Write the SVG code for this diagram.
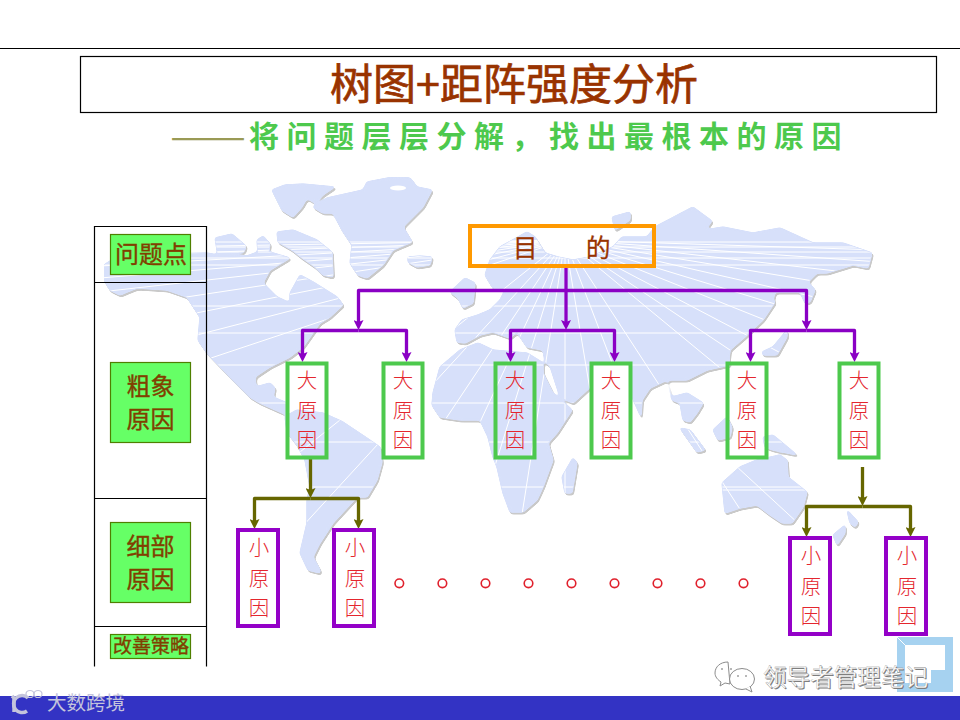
<svg xmlns="http://www.w3.org/2000/svg" width="960" height="720" viewBox="0 0 960 720">
<style>
text{font-family:"Noto Sans CJK SC","Liberation Sans",sans-serif}
.rule{stroke:#000;stroke-width:1.2;fill:none}
.lbl{fill:#66ff66;stroke:#4f7f00;stroke-width:1.2}
.lt{fill:#804000;stroke:#804000;stroke-width:.35;font-size:24px;text-anchor:middle}
.big{fill:none;stroke:#4dc94d;stroke-width:4}
.small{fill:none;stroke:#9400c8;stroke-width:4}
.red{fill:#e4262e;font-size:20.5px;text-anchor:middle;font-weight:300}
.pc{fill:none;stroke:#8a00c4;stroke-width:3.3;stroke-linejoin:round}
.oc{fill:none;stroke:#666600;stroke-width:3.3;stroke-linejoin:round}
.dot{fill:none;stroke:#e0202c;stroke-width:1.6}
</style>
<defs>
<marker id="ap" markerUnits="userSpaceOnUse" markerWidth="10" markerHeight="10" viewBox="0 0 8 8" refX="4" refY="4" orient="auto"><path d="M0 0L8 4L0 8L1.5 4z" fill="#8a00c4"/></marker>
<marker id="ao" markerUnits="userSpaceOnUse" markerWidth="10" markerHeight="10" viewBox="0 0 8 8" refX="4" refY="4" orient="auto"><path d="M0 0L8 4L0 8L1.5 4z" fill="#666600"/></marker>
<filter id="round" x="0" y="0" width="1" height="1" color-interpolation-filters="sRGB">
<feGaussianBlur stdDeviation="1.6"/>
<feComponentTransfer><feFuncA type="linear" slope="6" intercept="-2.5"/></feComponentTransfer>
</filter>
<path id="land" d="M272 190L285 185L303 184L335 187L323 195L315 203L307 198L302 207L293 217L282 210L278 202Z
M313 207L327 198L363 190L367 182L393 177L410 178L417 187L432 190L423 207L403 227L412 242L393 250L383 265L367 278L358 275L350 263L352 245L342 230L333 213L323 213Z
M408 257L420 256L432 257L430 265L417 267L408 262Z
M277 232L293 230L317 240L332 252L333 277L323 275L315 267L302 258L292 250L278 242Z
M215 238L232 234L246 246L244 252L218 256L217 250Z
M257 240L263 236L270 244L268 256L258 254Z
M104 265L120 255L207 253L223 256L247 256L263 250L290 258L270 270L263 283L277 297L290 303L290 293L300 275L313 282L337 297L343 305L330 317L320 323L303 347L290 357L270 367L255 377L256 387L270 383L275 388L273 397L287 403L287 415L260 403L250 397L230 377L207 353L198 340L200 317L187 297L167 290L137 288L127 292L120 295L110 290L104 280Z
M285 417L297 410L323 413L343 422L367 438L380 447L382 462L377 480L367 497L357 497L333 523L320 543L313 557L320 570L320 573L308 570L300 553L307 523L307 500L310 487L305 460L297 445L287 432Z
M433 393L440 367L460 350L478 343L493 350L527 353L543 363L543 373L553 393L570 408L572 410L557 433L548 443L553 460L543 487L537 500L523 512L510 512L503 493L497 467L493 457L488 437L480 420L460 420L440 417L432 405Z
M562 477L573 458L577 463L572 493L565 493Z
M490 260L500 247L527 232L535 237L545 253L558 257L573 260L590 257L613 247L622 237L647 237L655 227L693 207L712 221L705 230L723 227L753 233L780 228L813 243L843 243L872 253L868 268L853 265L827 273L817 273L808 282L815 290L810 302L805 303L800 292L775 292L773 300L775 302L763 320L745 337L730 350L729 360L730 365L707 370L687 380L667 380L672 397L687 393L703 403L697 413L690 422L683 420L680 403L672 400L667 380L650 388L642 400L641 417L632 397L630 384L596 382L573 403L560 397L550 366L545 362L543 350L527 347L517 332L510 338L493 332L480 335L465 343L457 342L455 330L462 320L478 315L490 310L500 300L505 290L493 288L485 275Z
M450 292L465 278L475 283L473 303L463 308L458 298Z
M612 217L630 212L630 220L615 230Z
M780 455L787 460L788 477L807 492L803 507L792 523L782 523L770 515L757 505L740 508L725 513L722 483L740 467L757 460Z
M763 437L773 435L797 455L773 450L765 447Z
M680 428L690 430L705 450L697 452Z
M713 430L727 417L732 427L730 437L718 440Z
M762 352L773 347L787 330L787 337L777 355L763 355Z
M847 510L858 522L855 527L850 523Z
M833 535L845 525L845 533L837 545Z"/>
<clipPath id="landclip"><use href="#land"/></clipPath>
</defs>

<rect width="960" height="720" fill="#fff"/>

<g id="map">
<g filter="url(#round)"><use href="#land" x="1.2" y="1.8" fill="#c9c9c9" stroke="#c9c9c9" stroke-width="1.5" stroke-linejoin="round"/></g>
<g filter="url(#round)"><use href="#land" fill="#d7e0fa" stroke="#d7e0fa" stroke-width="1.5" stroke-linejoin="round"/></g>
<ellipse cx="398" cy="188" rx="8" ry="2.5" fill="#fff"/>
<g clip-path="url(#landclip)" stroke="#fff" stroke-width="1" fill="none">
<path d="M90 242H880M90 247H880M90 252H880M90 258H880M90 265H880M90 306H880M90 333H880M90 365H880M90 403H880M90 442H880M90 487H880"/>
<path d="M565 240L100 248M565 240L100 256M565 240L100 266M565 240L100 278M565 240L100 292M565 240L100 310M565 240L100 332M565 240L100 360M565 240L100 395M565 240L190 540M565 240L290 540M565 240L365 540M565 240L425 540M565 240L472 540M565 240L518 540M565 240L565 540M565 240L615 540M565 240L680 540M565 240L760 540M565 240L880 500M565 240L880 450M565 240L880 405M565 240L880 366M565 240L880 336M565 240L880 312M565 240L880 292M565 240L880 276M565 240L880 262M565 240L880 250"/>
<path d="M735 465L800 525M722 490L810 490"/>
</g>
</g>

<g id="header">
<path d="M0 48.5H960" stroke="#000" stroke-width="1.2"/>
</g>
<g id="title">
<rect x="80.5" y="56.5" width="856" height="56" fill="none" stroke="#000" stroke-width="1.2"/>
<text x="514" y="100" text-anchor="middle" font-size="43" fill="#993300" stroke="#993300" stroke-width="0.7">树图+距阵强度分析</text>
</g>
<g id="subtitle">
<text x="170" y="150" font-size="37.5" fill="#9a9a55" textLength="76" lengthAdjust="spacingAndGlyphs">——</text>
<text x="249" y="147" font-size="30" font-weight="700" fill="#4dc94d" letter-spacing="7.5">将问题层层分解，找出最根本的原因</text>
</g>

<g id="table">
<path class="rule" d="M94.5 666.5V226.5H206.5V666.5M94.5 282.5H206.5M94.5 498.5H206.5M94.5 626.5H206.5"/>
</g>
<g id="label-problem"><rect class="lbl" x="110.5" y="234.5" width="80" height="40"/><text class="lt" x="151" y="263">问题点</text></g>
<g id="label-rough"><rect class="lbl" x="110.5" y="362.5" width="80" height="80"/><text class="lt" x="150.5" y="395">粗象</text><text class="lt" x="150.5" y="428">原因</text></g>
<g id="label-detail"><rect class="lbl" x="110.5" y="522.5" width="80" height="80"/><text class="lt" x="150.5" y="555">细部</text><text class="lt" x="150.5" y="588">原因</text></g>
<g id="label-improve"><rect class="lbl" x="110.5" y="634.5" width="80" height="24"/><text class="lt" x="151" y="653" style="font-size:19px">改善策略</text></g>

<g id="connectors">
<path class="pc" d="M566 266V325" marker-end="url(#ap)"/>
<path class="pc" d="M566 290.5H358.5V325" marker-end="url(#ap)"/>
<path class="pc" d="M566 290.5H806.5V325" marker-end="url(#ap)"/>
<path class="pc" d="M358.5 330.5H302.5V357" marker-end="url(#ap)"/>
<path class="pc" d="M358.5 330.5H406.5V357" marker-end="url(#ap)"/>
<path class="pc" d="M566 330.5H510.5V357" marker-end="url(#ap)"/>
<path class="pc" d="M566 330.5H614.5V357" marker-end="url(#ap)"/>
<path class="pc" d="M806.5 330.5H750.5V357" marker-end="url(#ap)"/>
<path class="pc" d="M806.5 330.5H854.5V357" marker-end="url(#ap)"/>
<path class="oc" d="M310.5 459V493" marker-end="url(#ao)"/>
<path class="oc" d="M310.5 498.5H254.5V524" marker-end="url(#ao)"/>
<path class="oc" d="M310.5 498.5H358.5V524" marker-end="url(#ao)"/>
<path class="oc" d="M862.5 467V501" marker-end="url(#ao)"/>
<path class="oc" d="M862.5 506.5H806.5V532" marker-end="url(#ao)"/>
<path class="oc" d="M862.5 506.5H910.5V532" marker-end="url(#ao)"/>
</g>

<g id="goal">
<rect x="470" y="226" width="184" height="40" fill="none" stroke="#ff9900" stroke-width="4"/>
<text font-size="24.5" fill="#993300" stroke="#993300" stroke-width=".3" y="257"><tspan x="513">目</tspan> <tspan x="586">的</tspan></text>
</g>

<g id="big1"><rect class="big" x="287.5" y="363.5" width="39" height="94"/><text class="red" x="307" y="388">大</text><text class="red" x="307" y="418">原</text><text class="red" x="307" y="448">因</text></g>
<g id="big2"><rect class="big" x="383.5" y="363.5" width="39" height="94"/><text class="red" x="403" y="388">大</text><text class="red" x="403" y="418">原</text><text class="red" x="403" y="448">因</text></g>
<g id="big3"><rect class="big" x="495.5" y="363.5" width="39" height="94"/><text class="red" x="515" y="388">大</text><text class="red" x="515" y="418">原</text><text class="red" x="515" y="448">因</text></g>
<g id="big4"><rect class="big" x="591.5" y="363.5" width="39" height="94" style="fill:#fff"/><text class="red" x="611" y="388">大</text><text class="red" x="611" y="418">原</text><text class="red" x="611" y="448">因</text></g>
<g id="big5"><rect class="big" x="727.5" y="363.5" width="39" height="94"/><text class="red" x="747" y="388">大</text><text class="red" x="747" y="418">原</text><text class="red" x="747" y="448">因</text></g>
<g id="big6"><rect class="big" x="839.5" y="363.5" width="39" height="94"/><text class="red" x="859" y="388">大</text><text class="red" x="859" y="418">原</text><text class="red" x="859" y="448">因</text></g>

<g id="small1"><rect class="small" x="238" y="530" width="40" height="96"/><text class="red" x="259" y="555">小</text><text class="red" x="259" y="586">原</text><text class="red" x="259" y="616">因</text></g>
<g id="small2"><rect class="small" x="334" y="530" width="40" height="96"/><text class="red" x="355" y="555">小</text><text class="red" x="355" y="586">原</text><text class="red" x="355" y="616">因</text></g>
<g id="small3"><rect class="small" x="790" y="538" width="40" height="96"/><text class="red" x="811" y="563">小</text><text class="red" x="811" y="594">原</text><text class="red" x="811" y="624">因</text></g>
<g id="small4"><rect class="small" x="886" y="538" width="40" height="96"/><text class="red" x="907" y="563">小</text><text class="red" x="907" y="594">原</text><text class="red" x="907" y="624">因</text></g>

<g id="dots">
<circle class="dot" cx="399.3" cy="583.3" r="4.3"/><circle class="dot" cx="442.4" cy="583.3" r="4.3"/><circle class="dot" cx="485.5" cy="583.3" r="4.3"/><circle class="dot" cx="528.5" cy="583.3" r="4.3"/><circle class="dot" cx="571.5" cy="583.3" r="4.3"/><circle class="dot" cx="614.5" cy="583.3" r="4.3"/><circle class="dot" cx="657.5" cy="583.3" r="4.3"/><circle class="dot" cx="700.5" cy="583.3" r="4.3"/><circle class="dot" cx="743.5" cy="583.3" r="4.3"/>
</g>

<g id="footer">
<rect x="0" y="696" width="960" height="24" fill="#3333c4"/>
<path d="M897 637H953V692H897ZM905 645V683H931V670H945V645Z" fill="#a6d2f0" fill-rule="evenodd"/>
<path d="M897 637L905 645" stroke="#fff" stroke-width="1"/>
</g>
<g id="logo-left" fill="none" stroke="#c4c4dc">
<path d="M12 696L14 698V712" stroke-width="3.5"/>
<path d="M28 698A8.5 8.5 0 1 0 27 711" stroke-width="3.5"/>
<ellipse cx="30" cy="694" rx="4" ry="3.5" stroke-width="1.2"/>
<ellipse cx="38" cy="694" rx="4" ry="3.5" stroke-width="1.2"/>
<text x="47" y="710" font-size="19.5" fill="#c4c4dc" stroke="none">大数跨境</text>
</g>
<g id="watermark">
<path d="M728 662C720 662 715 667 715 673C715 677 718 680 721 682L720 686L725 683L730 684Z" fill="#fff" stroke="#8c8c8c" stroke-width="1"/>
<ellipse cx="742" cy="679" rx="12.5" ry="10.5" fill="#fff" stroke="#8c8c8c" stroke-width="1"/>
<path d="M746 689L752 692L750 686" fill="#fff" stroke="#8c8c8c" stroke-width="1"/>
<g fill="#a0a0a0"><circle cx="722" cy="669" r="1"/><circle cx="731" cy="669" r="1"/><circle cx="738" cy="676" r="1"/><circle cx="746" cy="676" r="1"/></g>
<text x="763" y="685.5" font-size="23.6" fill="#7a7a7a" transform="translate(1 1)">领导者管理笔记</text>
<text x="763" y="685.5" font-size="23.6" fill="#fff" stroke="#8a8a8a" stroke-width="0.3">领导者管理笔记</text>
</g>
</svg>
